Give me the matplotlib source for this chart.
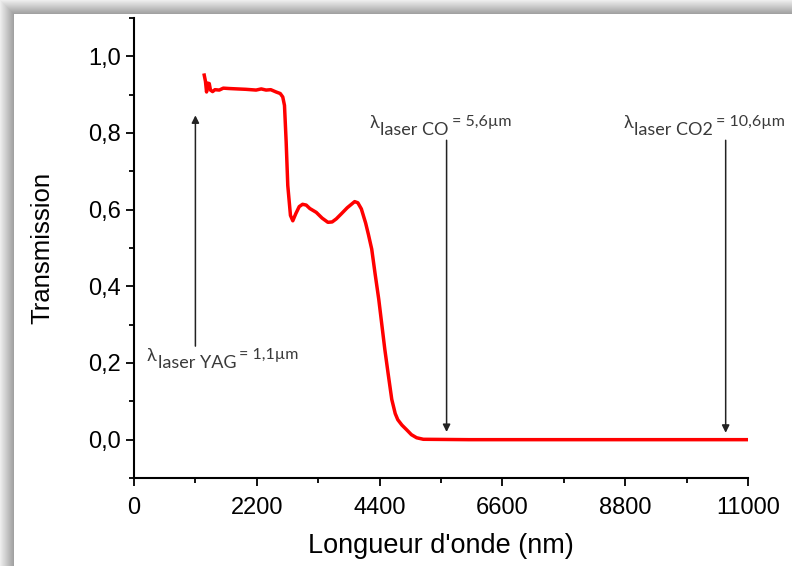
import numpy as np
import matplotlib
matplotlib.use("Agg")
import matplotlib.pyplot as plt
from matplotlib.patches import Rectangle
import matplotlib.transforms as mtransforms

# ---- data ----
wavelength_nm = [1258, 1280, 1300, 1320, 1348, 1370, 1408, 1450, 1528, 1600, 1707, 1850, 2000, 2187, 2280,
                 2366, 2450, 2546, 2620, 2665, 2696, 2726, 2755, 2803, 2845, 2900, 2960, 3020, 3085, 3150,
                 3265, 3370, 3474, 3550, 3624, 3720, 3820, 3953, 4010, 4073, 4150, 4200, 4259, 4320, 4385,
                 4440, 4493, 4555, 4618, 4680, 4726, 4800, 4883, 4970, 5063, 5183, 6000, 7000, 8000, 9000,
                 10000, 11000]
transmission = [0.951, 0.935, 0.907, 0.930, 0.929, 0.912, 0.908, 0.913, 0.912, 0.917, 0.916, 0.915, 0.914, 0.912, 0.915,
                0.912, 0.913, 0.907, 0.903, 0.894, 0.872, 0.777, 0.663, 0.585, 0.571, 0.590, 0.608, 0.614, 0.612, 0.603,
                0.593, 0.578, 0.567, 0.568, 0.576, 0.590, 0.605, 0.621, 0.618, 0.602, 0.565, 0.535, 0.497, 0.432, 0.366,
                0.300, 0.236, 0.170, 0.105, 0.068, 0.052, 0.038, 0.026, 0.013, 0.005, 0.001, 0.0, 0.0, 0.0, 0.0,
                0.0, 0.0]

laser_positions = [1100, 5600, 10600]
laser_names = ["laser YAG", "laser CO", "laser CO2"]
laser_values = ["= 1,1µm", "= 5,6µm", "= 10,6µm"]

x_ticks = [0, 2200, 4400, 6600, 8800, 11000]
y_ticks = [0.0, 0.2, 0.4, 0.6, 0.8, 1.0]
y_ticklabels = ["0,0", "0,2", "0,4", "0,6", "0,8", "1,0"]

plt.rcParams['font.family'] = ['Liberation Sans', 'DejaVu Sans']

fig = plt.figure(figsize=(7.92, 5.66), dpi=100)
ax = fig.add_axes([134/792, 1-478/566, (748-134)/792, (478-18)/566])

ax.plot(wavelength_nm, transmission, color='#ff0000', lw=2.5, solid_joinstyle='round')

ax.set_xlim(0, 11000)
ax.set_ylim(-0.1, 1.1)
ax.set_xticks(x_ticks)
ax.set_xticks([1100, 3300, 5500, 7700, 9900], minor=True)
ax.set_yticks(y_ticks)
ax.set_yticklabels(y_ticklabels)
ax.set_yticks([-0.1, 0.1, 0.3, 0.5, 0.7, 0.9, 1.1], minor=True)
ax.tick_params(axis='both', which='major', direction='out', length=6, width=1.3, labelsize=17, colors='black')
ax.tick_params(axis='x', which='major', pad=8)
ax.tick_params(axis='both', which='minor', direction='out', length=3.5, width=1.3)
for s in ['top', 'right']:
    ax.spines[s].set_visible(False)
for s in ['left', 'bottom']:
    ax.spines[s].set_linewidth(1.5)
ax.set_xlabel("Longueur d'onde (nm)", fontsize=19.5, labelpad=10)
ax.set_ylabel("Transmission", fontsize=18.5, labelpad=24)

# ---- arrows ----
arrow_kw = dict(arrowstyle='-|>', color='#222222', lw=1.1, mutation_scale=11, shrinkA=0, shrinkB=0)
# YAG: pointing up
ax.annotate('', xy=(laser_positions[0], 0.846), xytext=(laser_positions[0], 0.244), arrowprops=arrow_kw)
# CO and CO2: pointing down
ax.annotate('', xy=(laser_positions[1], 0.02), xytext=(laser_positions[1], 0.781), arrowprops=arrow_kw)
ax.annotate('', xy=(laser_positions[2], 0.018), xytext=(laser_positions[2], 0.781), arrowprops=arrow_kw)

# ---- rich labels ----
fig.canvas.draw()
renderer = fig.canvas.get_renderer()
txt_color = '#3a3a3a'


def rich(x, y, name, value):
    parts = [("λ", 13, 0, 0), (name, 13, -7, 2), (value, 11.5, 2, 0)]
    dx = 0.0
    for text, size, dy, gap in parts:
        tr = mtransforms.offset_copy(ax.transData, fig=fig, x=dx, y=dy, units='dots')
        t = ax.text(x, y, text, fontsize=size, family=['Lato', 'DejaVu Sans'], color=txt_color,
                    ha='left', va='baseline', transform=tr)
        dx += t.get_window_extent(renderer).width + 1 + gap


rich(234, 0.205, laser_names[0], laser_values[0])
rich(4223, 0.812, laser_names[1], laser_values[1])
rich(8763, 0.812, laser_names[2], laser_values[2])

# ---- screenshot-like border on left and top ----
for i in range(14):
    g = 0.93 - 0.30 * (i / 13.0)
    fig.patches.append(Rectangle((i / 792, 0), 1 / 792, 1 - i / 566, transform=fig.transFigure,
                                 facecolor=(g, g, g), edgecolor='none'))
    fig.patches.append(Rectangle((i / 792, 1 - (i + 1) / 566), 1 - i / 792, 1 / 566, transform=fig.transFigure,
                                 facecolor=(g, g, g), edgecolor='none'))

fig.savefig("out.png", dpi=100)
